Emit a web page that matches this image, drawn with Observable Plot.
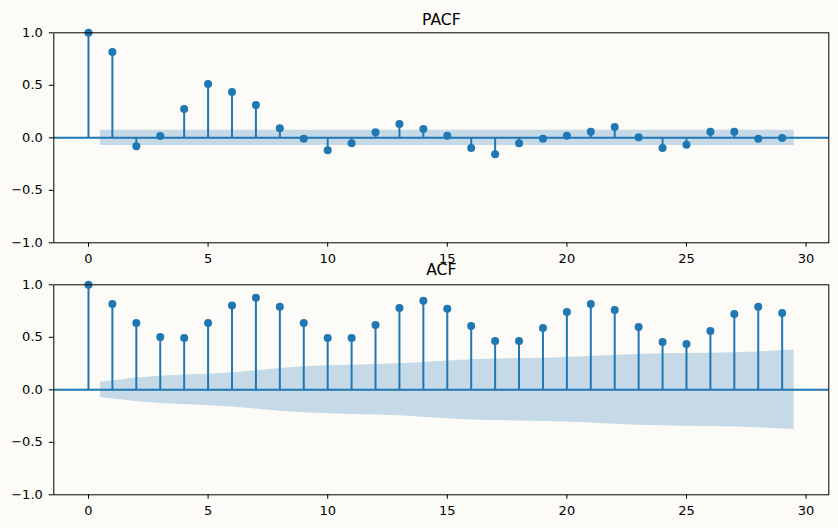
<!DOCTYPE html>
<html>
<head>
<meta charset="utf-8">
<script src="https://cdn.jsdelivr.net/npm/d3@7"></script>
<script src="https://cdn.jsdelivr.net/npm/@observablehq/plot@0.6"></script>
<style>
  html, body { margin: 0; padding: 0; background: #fcfbf7; }
  #wrap { position: relative; width: 838px; height: 528px; background: #fcfbf7; }
  #top, #bottom { position: absolute; left: 0; width: 838px; }
  #top { top: 0; }
  #bottom { top: 264px; }
</style>
</head>
<body>
<div id="wrap"><div id="top"></div><div id="bottom"></div></div>
<script>
// Lags
const lags = [0,1,2,3,4,5,6,7,8,9,10,11,12,13,14,15,16,17,18,19,20,21,22,23,24,25,26,27,28,29];

// Partial autocorrelation values
const pacfValues = [1.0, 0.818, -0.080, 0.016, 0.274, 0.513, 0.436, 0.312, 0.092, -0.010,
  -0.118, -0.051, 0.054, 0.131, 0.083, 0.019, -0.096, -0.156, -0.051, -0.010,
  0.019, 0.057, 0.102, 0.006, -0.096, -0.067, 0.057, 0.057, -0.010, -0.003];

// Autocorrelation values
const acfValues = [1.0, 0.818, 0.637, 0.503, 0.494, 0.637, 0.803, 0.876, 0.790, 0.637,
  0.494, 0.494, 0.618, 0.780, 0.847, 0.771, 0.608, 0.465, 0.465, 0.589,
  0.742, 0.818, 0.761, 0.599, 0.455, 0.436, 0.561, 0.723, 0.790, 0.732];

// Confidence band half-widths for lags 1..29
const pacfConf = [0.073,0.073,0.073,0.073,0.073,0.073,0.073,0.073,0.073,0.073,
  0.073,0.073,0.073,0.073,0.073,0.073,0.073,0.073,0.073,0.073,
  0.073,0.073,0.073,0.073,0.073,0.073,0.073,0.073,0.073];
const acfConf = [0.073, 0.112, 0.130, 0.140, 0.149, 0.163, 0.182, 0.204, 0.219, 0.229,
  0.235, 0.240, 0.248, 0.261, 0.275, 0.287, 0.293, 0.297, 0.301, 0.307,
  0.317, 0.328, 0.337, 0.343, 0.346, 0.349, 0.354, 0.361, 0.378];

const xTicks = [0, 5, 10, 15, 20, 25, 30];
const yTicks = [-1, -0.5, 0, 0.5, 1];

const BLUE = "#1f77b4";
const BG = "#fcfbf7";

function bandData(conf) {
  // band spans from lag 1 - 0.5 to lag 29 + 0.5
  return conf.map((c, i) => {
    let x = lags[i + 1];
    if (i === 0) x -= 0.5;
    if (i === conf.length - 1) x += 0.5;
    return {x, lo: -c, hi: c};
  });
}

function panel(title, values, conf, marginTop, marginBottom, titleDy) {
  const data = lags.map((l, i) => ({lag: l, value: values[i]}));
  return Plot.plot({
    width: 838,
    height: 264,
    marginLeft: 53.3,
    marginRight: 9.7,
    marginTop,
    marginBottom,
    style: {background: BG, overflow: "visible", fontFamily: "DejaVu Sans", fontSize: "13px", color: "black"},
    x: {domain: [-1.45, 30.95], ticks: xTicks, tickFormat: "d", label: null, tickSize: 4.5, tickPadding: 6},
    y: {domain: [-1, 1], ticks: yTicks, tickFormat: d3.format(".1f"), label: null, tickSize: 4.5, tickPadding: 6.5},
    marks: [
      Plot.areaY(bandData(conf), {x: "x", y1: "lo", y2: "hi", fill: BLUE, fillOpacity: 0.25}),
      Plot.ruleX(data, {x: "lag", y1: 0, y2: "value", stroke: BLUE, strokeWidth: 2}),
      Plot.dot(data, {x: "lag", y: "value", r: 4, fill: BLUE, stroke: "none"}),
      Plot.ruleY([0], {stroke: BLUE, strokeWidth: 2}),
      Plot.frame({stroke: "black", strokeWidth: 1}),
      Plot.text([title], {frameAnchor: "top", lineAnchor: "bottom", dy: titleDy, fontSize: 15.6, fill: "black"})
    ]
  });
}

document.getElementById("top").appendChild(panel("PACF", pacfValues, pacfConf, 32.3, 21.7, -8));
document.getElementById("bottom").appendChild(panel("ACF", acfValues, acfConf, 20.3, 33.7, -9.5));
</script>
</body>
</html>
